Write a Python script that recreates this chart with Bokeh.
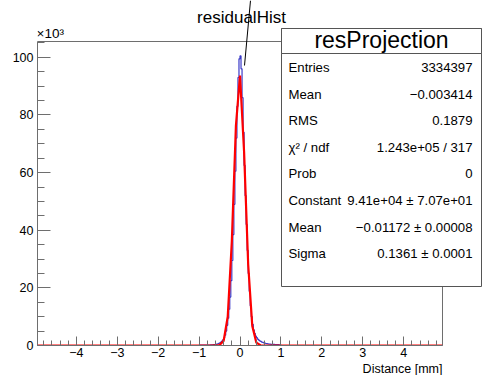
import numpy as np
from bokeh.plotting import figure
from bokeh.models import Range1d, FixedTicker, Label, BoxAnnotation, Arrow, Title
from bokeh.embed import file_html
from bokeh.resources import INLINE

# ---------------- data (counts in units of 10^3) ----------------
bin_width = 0.025
hist_left_edges = [round(-1.0 + i * bin_width, 3) for i in range(80)]
hist_counts = [
    0.10, 0.10, 0.11, 0.11, 0.12, 0.12, 0.13, 0.14, 0.15, 0.16, 0.18, 0.20,
    0.22, 0.25, 0.30, 0.35, 0.42, 0.50, 0.60, 0.75, 0.95, 1.2, 1.55, 2.0,
    2.6, 3.6, 5.0, 7.0, 9.5, 12.6, 16.8, 22.5, 29.5, 38.5, 49.0, 60.5,
    72.0, 83.0, 93.0, 99.5,
    100.5, 96.0, 86.0, 74.0, 62.5, 52.0, 42.0, 33.0, 25.0, 18.8, 13.8, 10.0,
    7.3, 5.4, 4.2, 3.3, 2.7, 2.2, 1.9, 1.6, 1.4, 1.2, 1.05, 0.9, 0.8, 0.7,
    0.62, 0.55, 0.5, 0.45, 0.42, 0.40, 0.38, 0.36, 0.34, 0.32, 0.30, 0.28,
    0.26, 0.24,
]
fit_x = [-4.95, -0.7, -0.6, -0.5, -0.4, -0.3, -0.2, -0.1, 0.0, 0.1, 0.2, 0.3,
         0.4, 0.5, 0.6, 0.7, 4.95]
fit_y = [0.0, 0.0, 0.01, 0.15, 1.6, 10.0, 36.1, 76.2, 93.7, 67.2, 28.1, 6.8,
         1.0, 0.08, 0.0, 0.0, 0.0]

x_major_ticks = [-4, -3, -2, -1, 0, 1, 2, 3, 4]
x_tick_labels = ["\u22124", "\u22123", "\u22122", "\u22121", "0", "1", "2", "3", "4"]
y_major_ticks = [0, 20, 40, 60, 80, 100]

stats_title = "resProjection"
stats_names = ["Entries", "Mean", "RMS", "\u03c7\u00b2 / ndf", "Prob", "Constant", "Mean", "Sigma"]
stats_values = ["3334397", "\u22120.003414", "0.1879", "1.243e+05 / 317", "0",
                "9.41e+04 \u00b1 7.07e+01", "\u22120.01172 \u00b1 0.00008", "0.1361 \u00b1 0.0001"]

FONT = "Liberation Sans"
AX = "#6e6e6e"

W, H = 482, 375
FL, FR, FT, FB = 37, 442, 41, 345          # visible histogram frame (pixels)
X0, X1, Y0, Y1 = -4.95, 4.95, 0.0, 105.5   # axis limits

px_x = (FR - FL) / (X1 - X0)
px_y = (FB - FT) / (Y1 - Y0)

p = figure(width=W, height=H, output_backend="svg", toolbar_location=None,
           title_location=None,
           x_range=Range1d(X0, X1 + (W - FR) / px_x),
           y_range=Range1d(Y0, Y1 + FT / px_y),
           min_border_left=FL, min_border_right=0,
           min_border_top=0, min_border_bottom=H - FB)
p.background_fill_color = "white"
p.border_fill_color = "white"
p.grid.visible = False
p.outline_line_color = None

# histogram outline
sx = [X0] + hist_left_edges + [hist_left_edges[-1] + bin_width, X1]
sy = [0.0] + hist_counts + [0.0, 0.0]
p.step(sx, sy, mode="after", line_color="#3a3ac8", line_width=1.2)
# fit
p.line(fit_x, fit_y, line_color="#ff0000", line_width=2.2)

# axes
xa = p.xaxis[0]
xa.ticker = FixedTicker(ticks=x_major_ticks,
                        minor_ticks=[round(v, 1) for v in np.arange(-4.8, 4.81, 0.2)])
xa.major_label_overrides = {t: l for t, l in zip(x_major_ticks, x_tick_labels)}
xa.bounds = (X0, X1)
ya = p.yaxis[0]
ya.ticker = FixedTicker(ticks=y_major_ticks, minor_ticks=list(range(0, 106, 5)))
ya.bounds = (Y0, Y1)
for ax in (xa, ya):
    ax.axis_line_color = AX
    ax.major_tick_line_color = AX
    ax.minor_tick_line_color = AX
    ax.major_tick_out = 0
    ax.minor_tick_out = 0
    ax.major_label_text_font = FONT
    ax.major_label_text_font_size = "12.5px"
    ax.major_label_text_color = "black"
xa.major_tick_in = 9
xa.minor_tick_in = 5
ya.major_tick_in = 13
ya.minor_tick_in = 7
xa.major_label_standoff = 2
ya.major_label_standoff = 4

# frame outline of the histogram pad
p.add_layout(BoxAnnotation(left=X0, right=X1, bottom=Y0, top=Y1,
                           fill_alpha=0, line_color=AX, line_width=1, line_alpha=1.0))

# x axis title, right aligned under the frame
p.add_layout(Title(text="Distance [mm]", align="right", offset=W - FR,
                   text_font=FONT, text_font_size="12.5px", text_font_style="normal",
                   text_color="black", standoff=0), "below")

# texts at top
p.add_layout(Label(x=241, y=17, x_units="canvas", y_units="canvas", text="residualHist",
                   text_font=FONT, text_font_size="17px", text_align="center",
                   text_baseline="middle", text_color="black"))
p.add_layout(Label(x=FL - 1, y=33, x_units="canvas", y_units="canvas", text="\u00d710\u00b3",
                   text_font=FONT, text_font_size="13.5px", text_align="left",
                   text_baseline="middle", text_color="black"))

# pointer line
p.add_layout(Arrow(end=None, x_start=250, y_start=0, x_end=244, y_end=65,
                   start_units="canvas", end_units="canvas",
                   line_color="black", line_width=1))

# stats box
BL, BR, BT, BB, BS = 281, 481, 28, 286, 53
p.add_layout(BoxAnnotation(left=BL, right=BR, top=BT, bottom=BB,
                           left_units="canvas", right_units="canvas",
                           top_units="canvas", bottom_units="canvas",
                           fill_color="white", fill_alpha=1.0,
                           line_color="#555555", line_width=1, line_alpha=1.0))
p.add_layout(BoxAnnotation(left=BL, right=BR, top=BT, bottom=BS,
                           left_units="canvas", right_units="canvas",
                           top_units="canvas", bottom_units="canvas",
                           fill_color="white", fill_alpha=1.0,
                           line_color="#555555", line_width=1, line_alpha=1.0))
p.add_layout(Label(x=(BL + BR) / 2, y=39, x_units="canvas", y_units="canvas",
                   text=stats_title, text_font=FONT, text_font_size="23px",
                   text_align="center", text_baseline="middle", text_color="black"))
row_y0, row_dy = 67, 26.6
for i, (n, v) in enumerate(zip(stats_names, stats_values)):
    yy = row_y0 + i * row_dy
    p.add_layout(Label(x=288, y=yy, x_units="canvas", y_units="canvas", text=n,
                       text_font=FONT, text_font_size="13.2px", text_align="left",
                       text_baseline="middle", text_color="black"))
    p.add_layout(Label(x=472, y=yy, x_units="canvas", y_units="canvas", text=v,
                       text_font=FONT, text_font_size="13.2px", text_align="right",
                       text_baseline="middle", text_color="black"))

open("out.html", "w").write(file_html(p, INLINE))
